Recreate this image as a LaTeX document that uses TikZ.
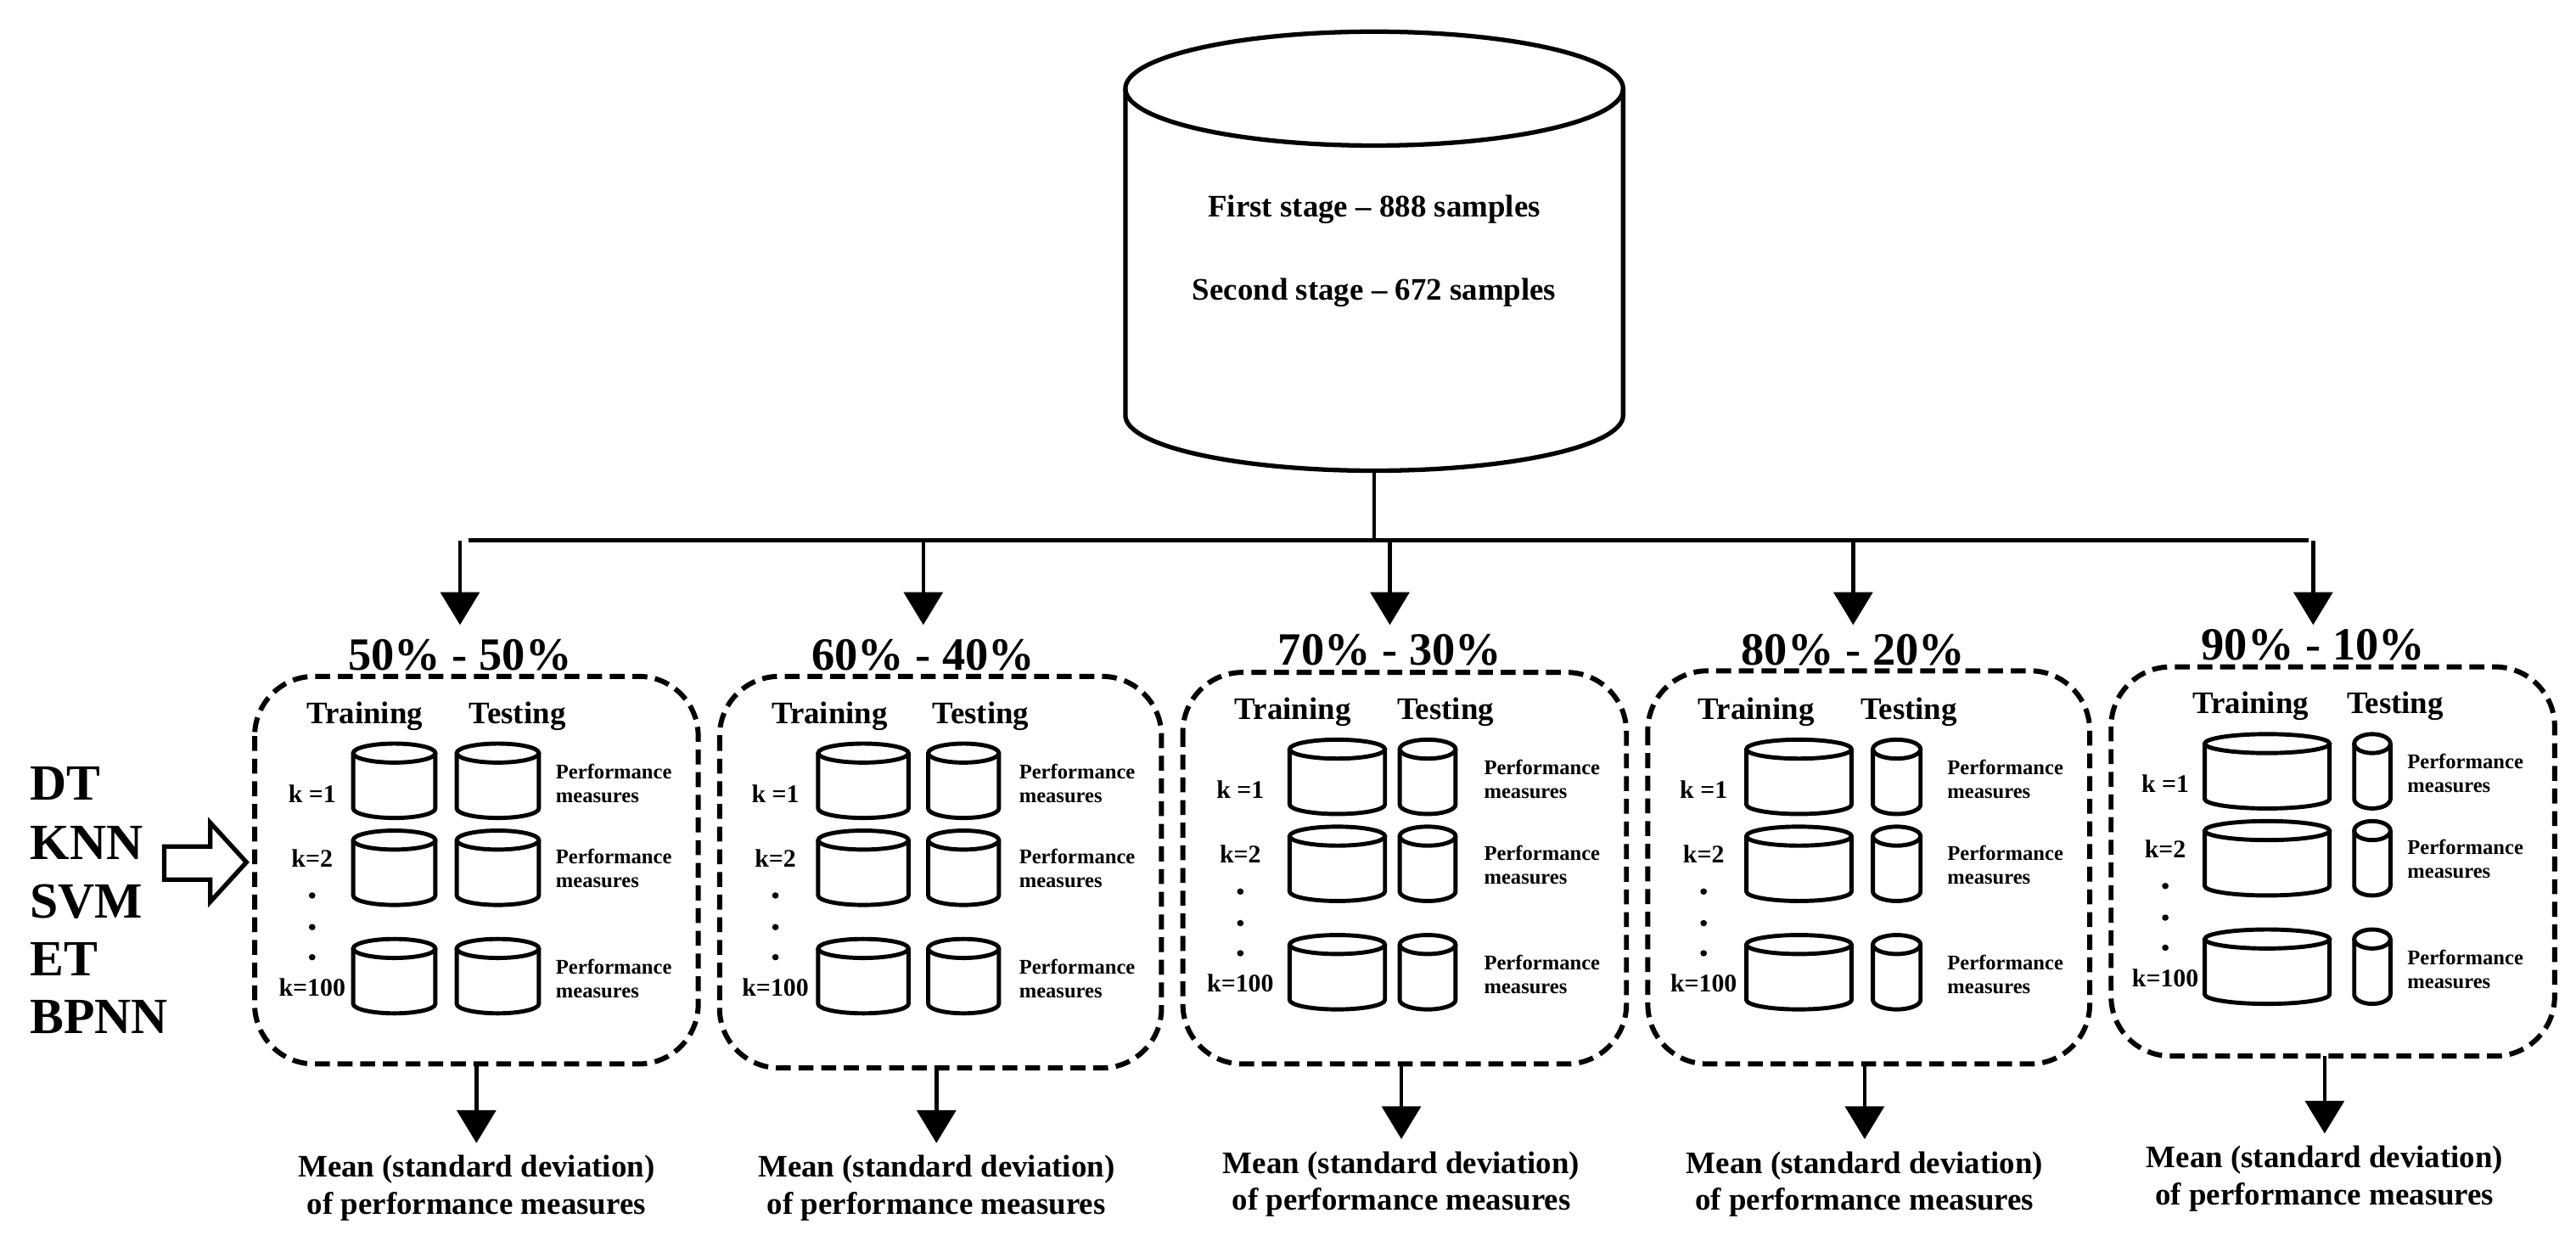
\documentclass[tikz,border=0pt]{standalone}
\usepackage{fontspec}
\setmainfont{Liberation Serif}
\usetikzlibrary{arrows.meta}
\begin{document}
\begin{tikzpicture}[x=0.01936cm,y=-0.00932cm,
  ln/.style={line width=1.3pt},
  arr/.style={line width=1.3pt,-{Triangle[length=11pt,width=13pt]}},
  cyl/.style={line width=1.4pt},
  panel/.style={line width=1.7pt,dash pattern=on 5pt off 2.6pt,rounded corners=20pt},
  txt/.style={font=\bfseries},
  pct/.style={font=\bfseries\fontsize{15.5}{17}\selectfont},
  hd/.style={font=\bfseries\fontsize{10.5}{12}\selectfont},
  kl/.style={font=\bfseries\fontsize{8.5}{10}\selectfont},
  pf/.style={font=\bfseries\fontsize{7}{8}\selectfont,align=left,anchor=west,inner sep=0pt},
  mn/.style={font=\bfseries\fontsize{10.5}{12.5}\selectfont,align=center},
  alg/.style={font=\bfseries\fontsize{17}{20}\selectfont,anchor=west,inner sep=0pt}]
\useasboundingbox (0,0) rectangle (1568,1568);
% big cylinder
\draw[line width=1.5pt] (836.5,112) ellipse [x radius=151.5, y radius=72];
\draw[line width=1.5pt] (685,112) -- (685,525) arc[start angle=180,end angle=0,x radius=151.5,y radius=70] -- (988,112);
\coordinate (db) at (836.5,595);
\node[txt,font=\bfseries\fontsize{10.5}{12}\selectfont] (s1) at (836.5,265) {First stage -- 888 samples};
\node[txt,font=\bfseries\fontsize{10.5}{12}\selectfont] (s2) at (836.5,370) {Second stage -- 672 samples};
\coordinate (hm) at (836.5,683);
\coordinate (hl) at (285,683);
\coordinate (hr) at (1405,683);
\draw[ln] (db) -- (hm);
\draw[ln] (hl) -- (hr);
% algorithms
\node[alg] (a1) at (18,990) {DT};
\node[alg] (a2) at (18,1065) {KNN};
\node[alg] (a3) at (18,1140) {SVM};
\node[alg] (a4) at (18,1212) {ET};
\node[alg] (a5) at (18,1285) {BPNN};
\draw[line width=1.5pt] (100,1070) -- (128,1070) -- (128,1040) -- (150,1090) -- (128,1140) -- (128,1112) -- (100,1112) -- cycle;
\foreach \i/\L/\R/\T/\B/\px/\py/\tra/\trb/\tea/\teb/\kx/\pfx/\ax/\dy/\pc/\tx/\sx in {
 1/155/425/855/1345/280/828/215/265/278/328/190/338/290/0/{50\% - 50\%}/222/315,
 2/438/707/855/1350/562/828/498/553/565/608/472/620/570/0/{60\% - 40\%}/505/597,
 3/720/990/850/1345/846/822/785/843/852/886/755/903/853/-5/{70\% - 30\%}/787/880,
 4/1003/1272/848/1345/1128/822/1063/1127/1140/1169/1037/1185/1135/-5/{80\% - 20\%}/1069/1162,
 5/1285/1555/843/1335/1408/815/1342/1418/1433/1455/1318/1465/1415/-12/{90\% - 10\%}/1370/1458}{
  \node[pct] (pc\i) at (\px,\py) {\pc};
  \pgfmathsetmacro\tc{(\tra+\trb)/2}\pgfmathsetmacro\trx{(\trb-\tra)/2}
  \pgfmathsetmacro\sc{(\tea+\teb)/2}\pgfmathsetmacro\tsx{(\teb-\tea)/2}
  \draw[arr] (\px,683) -- (\px,790);
  \draw[panel] (\L,\T) rectangle (\R,\B);
  \node[hd] (tr\i) at (\tx,905+\dy) {Training};
  \node[hd] (te\i) at (\sx,905+\dy) {Testing};
  \foreach \yt/\kk/\ky/\py in {940/{k =1}/1003/990, 1050/{k=2}/1085/1098, 1187/{k=100}/1248/1237}{
    \pgfmathsetmacro\ya{\yt+\dy}\pgfmathsetmacro\yb{\yt+\dy+82}
    \draw[cyl] (\tc,\ya+12) ellipse [x radius=\trx,y radius=12];
    \draw[cyl] (\tra,\ya+12) -- (\tra,\yb) arc[start angle=180,end angle=0,x radius=\trx,y radius=12] -- (\trb,\ya+12);
    \draw[cyl] (\sc,\ya+12) ellipse [x radius=\tsx,y radius=12];
    \draw[cyl] (\tea,\ya+12) -- (\tea,\yb) arc[start angle=180,end angle=0,x radius=\tsx,y radius=12] -- (\teb,\ya+12);
    \node[kl] at (\kx,\ky+\dy) {\kk};
    \node[pf] at (\pfx,\py+\dy) {Performance\\measures};
  }
  \foreach \d in {1132,1172,1210}{\fill (\kx,\d+\dy) circle[x radius=2,y radius=4];}
  \coordinate (pb\i) at (\ax,\B);
  \node[mn] (mn\i) at (\ax,1502+\dy) {Mean (standard deviation)\\of performance measures};
  \draw[arr] (pb\i) -- (\ax,1445+\dy);
}
\end{tikzpicture}
\end{document}
